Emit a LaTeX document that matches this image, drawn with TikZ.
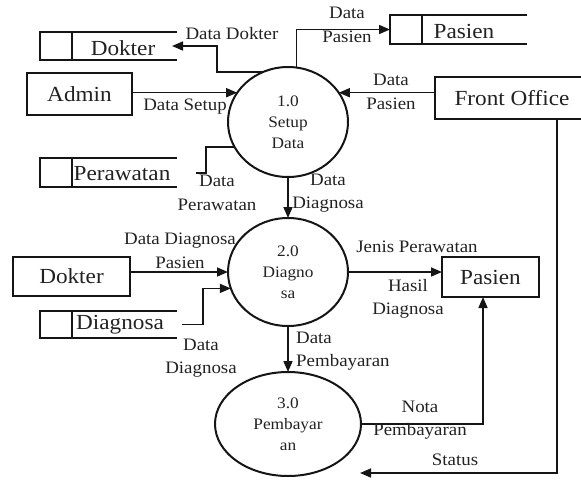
\documentclass[tikz,border=0pt]{standalone}
\usepackage{fontspec}
\setmainfont{Liberation Serif}[FakeStretch=1.08]
\usetikzlibrary{arrows.meta,shapes.geometric}
\definecolor{ink}{HTML}{151515}
\definecolor{txt}{HTML}{222222}
\begin{document}
\begin{tikzpicture}[x=1pt,y=-1pt,
 flow/.style={draw=ink, line width=1.6pt},
 arr/.style={flow, -{Triangle[length=11pt,width=9pt]}},
 proc/.style={ellipse, draw=ink, line width=2pt, inner sep=0pt, outer sep=0pt, align=center, text=txt, font=\fontsize{16}{21}\selectfont},
 ext/.style={rectangle, draw=ink, line width=1.8pt, inner sep=0pt, outer sep=0pt, text=txt, font=\fontsize{21.5}{24}\selectfont},
 storebox/.style={rectangle, inner sep=0pt, outer sep=0pt},
 storeline/.style={draw=ink, line width=1.5pt},
 stxt/.style={text=txt, font=\fontsize{21.5}{24}\selectfont, inner sep=0pt},
 lbl/.style={text=txt, font=\fontsize{17.5}{23.5}\selectfont, align=center, inner sep=0pt}
]
\useasboundingbox (0,0) rectangle (581,480);

% processes
\node[proc, minimum width=120pt, minimum height=110pt] (p1) at (288,122) {1.0\\Setup\\Data};
\node[proc, minimum width=120pt, minimum height=108pt] (p2) at (288,272) {2.0\\Diagno\\sa};
\node[proc, minimum width=146pt, minimum height=104pt] (p3) at (288,424) {3.0\\Pembayar\\an};

% external entities
\node[ext, minimum width=105pt, minimum height=42pt] (admin) at (79.5,94) {Admin};
\node[ext, minimum width=154pt, minimum height=42pt] (fo) at (512,98) {Front Office};
\node[ext, minimum width=117pt, minimum height=39pt] (dokE) at (71.5,276.5) {Dokter};
\node[ext, minimum width=97pt, minimum height=40pt] (pasE) at (490.5,277) {Pasien};

% data stores
\node[storebox, minimum width=137pt, minimum height=28pt] (sDokter) at (108.5,46) {};
\draw[storeline] (sDokter.north east) -- (sDokter.north west) -- (sDokter.south west) -- (sDokter.south east);
\draw[storeline] ([xshift=32pt]sDokter.north west) -- ([xshift=32pt]sDokter.south west);
\node[stxt] (tDokter) at (123,48) {Dokter};

\node[storebox, minimum width=137pt, minimum height=29pt] (sPasien) at (458.5,29.5) {};
\draw[storeline] (sPasien.north east) -- (sPasien.north west) -- (sPasien.south west) -- (sPasien.south east);
\draw[storeline] ([xshift=32pt]sPasien.north west) -- ([xshift=32pt]sPasien.south west);
\node[stxt] (tPasien) at (464,31) {Pasien};

\node[storebox, minimum width=137pt, minimum height=29pt] (sPerawatan) at (108.5,172.5) {};
\draw[storeline] (sPerawatan.north east) -- (sPerawatan.north west) -- (sPerawatan.south west) -- (sPerawatan.south east);
\draw[storeline] ([xshift=32pt]sPerawatan.north west) -- ([xshift=32pt]sPerawatan.south west);
\node[stxt] (tPerawatan) at (122,174) {Perawatan};

\node[storebox, minimum width=137pt, minimum height=27pt] (sDiag) at (108.5,324.5) {};
\draw[storeline] (sDiag.north east) -- (sDiag.north west) -- (sDiag.south west) -- (sDiag.south east);
\draw[storeline] ([xshift=32pt]sDiag.north west) -- ([xshift=32pt]sDiag.south west);
\node[stxt] (tDiag) at (120,325) {Diagnosa};

% helper coordinates
\coordinate (dk) at (217,46);
\coordinate (pk) at (206,173);
\coordinate (pe) at (196,173);
\coordinate (dg) at (203,0);
\coordinate (stEnd) at (360,473);

% flows
\draw[arr] (p1.117) -| (dk) -- ([xshift=-5pt]sDokter.east);
\draw[arr] (admin.east |- p1.150) -- (p1.150);
\draw[arr] (p1.81) |- (sPasien.west);
\draw[arr] (fo.west |- p1.30) -- (p1.30);
\draw[flow] (p1.205) -| (pk) -- (pe);
\draw[arr] (p1.south) -- (p2.north);
\draw[arr] (dokE.east |- p2.west) -- (p2.west);
\draw[arr] ([xshift=5pt]sDiag.east) -| (dg |- p2.196) -- (p2.196);
\draw[arr] (p2.east) -- (p2.east -| pasE.west);
\draw[arr] (p2.south) -- (p3.north);
\draw[arr] (p3.east) -| ([xshift=-7.5pt]pasE.south);
\draw[arr] ([xshift=45pt]fo.south) |- (stEnd);

% labels
\node[lbl] (l1) at (232,34) {Data Dokter};
\node[lbl] (l2) at (185,107) {Data Setup};
\node[lbl] (l3) at (347,25) {Data\\Pasien};
\node[lbl] (l4) at (391,92) {Data\\Pasien};
\node[lbl] (l5) at (217,193) {Data\\Perawatan};
\node[lbl] (l6) at (328,193) {Data\\Diagnosa};
\node[lbl] (l7) at (180,251) {Data Diagnosa\\Pasien};
\node[lbl] (l8) at (417,247) {Jenis Perawatan};
\node[lbl] (l9) at (408,299) {Hasil\\Diagnosa};
\node[lbl] (l10) at (201,358) {Data\\Diagnosa};
\node[lbl, align=left, anchor=west] (l11) at (296,351) {Data\\Pembayaran};
\node[lbl] (l12) at (420,420) {Nota\\Pembayaran};
\node[lbl] (l13) at (455,460) {Status};
\end{tikzpicture}
\end{document}
